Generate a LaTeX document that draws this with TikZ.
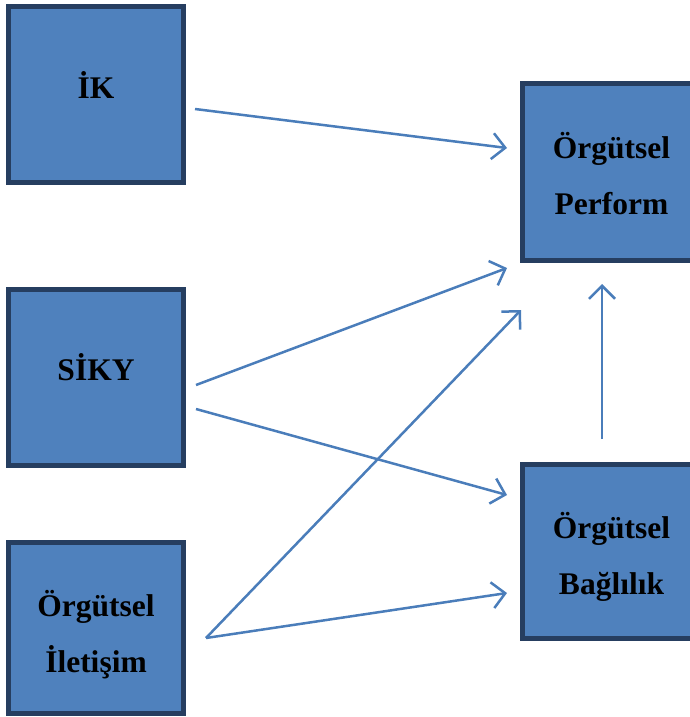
\documentclass[tikz,border=0pt]{standalone}
\usepackage{fontspec}
\setmainfont{Liberation Serif}
\usetikzlibrary{arrows.meta}
\definecolor{boxfill}{HTML}{4F81BD}
\definecolor{boxborder}{HTML}{263E60}
\definecolor{linkcol}{HTML}{4A7DBA}
\newcommand{\shifted}[2]{\raisebox{#1}[\height][\depth]{#2}}
\tikzset{
  box/.style = {rectangle, draw=boxborder, fill=boxfill, line width=5pt, inner sep=0pt, align=center, text=black,
    minimum width=175pt, font=\bfseries\fontsize{31.5}{56}\selectfont},
  link/.style = {draw=linkcol, line width=2.5pt, -{Straight Barb[length=13pt,width=26pt]}},
}

\begin{document}
\begin{tikzpicture}[x=1pt, y=-1pt]
  \useasboundingbox (0,0) rectangle (690,717);
  \clip (0,0) rectangle (690,717);
  % left column
  \node [box, minimum height=176pt] (ik) at (96,94.5) {\shifted{9pt}{İK}};
  \node [box, minimum height=176pt] (siky) at (96,377) {\shifted{10pt}{SİKY}};
  \node [box, minimum height=171pt] (ilet) at (96,628) {\shifted{-7pt}{Örgütsel}\\\shifted{-7pt}{İletişim}};
  % right column
  \node [box, minimum width=178pt, minimum height=177pt] (perf) at (611.5,172) {\shifted{-1.5pt}{Örgütsel}\\\shifted{-1.5pt}{Perform}};
  \node [box, minimum width=178pt, minimum height=174pt] (bag) at (611.5,551.5) {\shifted{-5.5pt}{Örgütsel}\\\shifted{-5.5pt}{Bağlılık}};
  % links
  \draw [link] ([shift={(9,14.5)}]ik.east) -- ([shift={(-13,-24)}]perf.west);
  \draw [link] ([shift={(10,8)}]siky.east) -- ([shift={(-13,5)}]perf.south west);
  \draw [link] ([shift={(10,32)}]siky.east) -- ([shift={(-13,-56.5)}]bag.west);
  \draw [link] ([shift={(20,10)}]ilet.east) -- ([shift={(1,47)}]perf.south west);
  \draw [link] ([shift={(20,10)}]ilet.east) -- ([shift={(-13,41.5)}]bag.west);
  \draw [link] ([shift={(-9.5,-23)}]bag.north) -- ([shift={(-9.5,21)}]perf.south);
\end{tikzpicture}
\end{document}
